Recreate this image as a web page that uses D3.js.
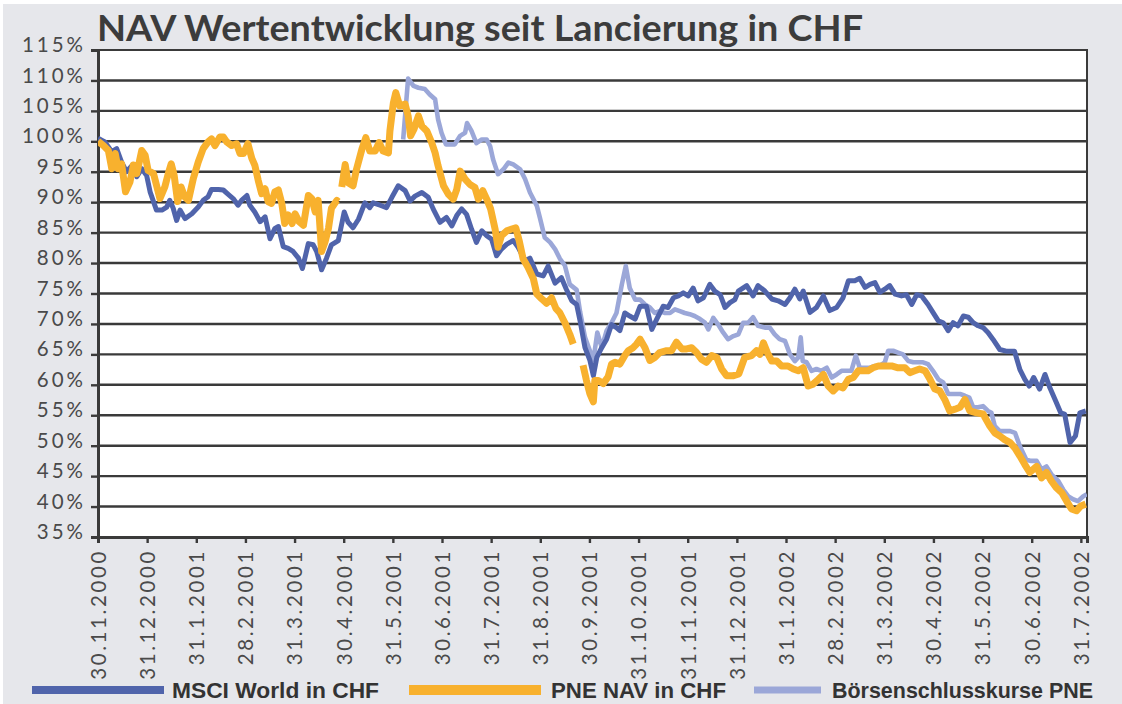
<!DOCTYPE html>
<html>
<head>
    <meta charset="utf-8">
    <title>NAV Wertentwicklung</title>
    <script src="https://cdn.jsdelivr.net/npm/d3@7/dist/d3.min.js"></script>
    <style>
        body { margin: 0; background: #fff; }
        svg { display: block; }
    </style>
</head>
<body>
    <svg width="1122" height="704"></svg>
    <script>
        // month index since launch (0 = 30.11.2000), value in %
        const xLabels = ['30.11.2000','31.12.2000','31.1.2001','28.2.2001','31.3.2001','30.4.2001',
            '31.5.2001','30.6.2001','31.7.2001','31.8.2001','30.9.2001','31.10.2001','31.11.2001',
            '31.12.2001','31.1.2002','28.2.2002','31.3.2002','30.4.2002','31.5.2002','30.6.2002','31.7.2002'];
        const yTicks = [35,40,45,50,55,60,65,70,75,80,85,90,95,100,105,110,115];
        const seriesNames = ['MSCI World in CHF', 'PNE NAV in CHF', 'Börsenschlusskurse PNE'];

        const msci = [[0,100.5],[0.14,99.9],[0.28,98.3],[0.38,98.8],[0.48,96.6],[0.58,95],[0.69,96],[0.79,94.2],
            [0.89,95.5],[0.99,94.4],[1.06,91.7],[1.19,88.7],[1.30,88.7],[1.40,89.2],[1.46,90.3],[1.53,89],[1.60,87],
            [1.67,88.7],[1.77,87.3],[1.91,88.1],[2.04,89.2],[2.14,90.3],[2.24,90.9],[2.31,92.1],[2.45,92.1],[2.55,92],
            [2.65,91.3],[2.75,90.6],[2.85,89.5],[2.92,90.3],[3.03,91.1],[3.09,89.5],[3.19,88.4],[3.30,86.8],[3.40,87.6],
            [3.50,84],[3.60,85.7],[3.67,86],[3.77,82.7],[3.87,82.4],[3.97,81.9],[4.08,80.8],[4.16,79.1],[4.28,83.2],
            [4.38,83],[4.45,81.9],[4.55,78.9],[4.65,80.8],[4.75,83],[4.89,83.7],[5.01,88.4],[5.09,86.7],[5.19,85.8],
            [5.30,87.2],[5.43,89.9],[5.53,89.1],[5.60,89.9],[5.74,89.5],[5.87,89.1],[5.98,90.8],[6.11,92.7],[6.25,91.9],
            [6.35,90.2],[6.45,91],[6.59,91.6],[6.72,90.8],[6.82,88.9],[6.96,86.7],[7.09,87.5],[7.20,86.1],[7.30,87.8],
            [7.40,88.9],[7.50,88],[7.60,85.6],[7.70,83.4],[7.81,85.3],[7.91,84.5],[8.01,83.9],[8.11,81.2],[8.21,82.3],
            [8.32,83.1],[8.45,83.7],[8.55,82.6],[8.69,80.4],[8.79,80.8],[8.93,78.2],[9.06,77.9],[9.16,79.5],[9.30,76.7],
            [9.43,77.6],[9.53,75.7],[9.64,73.8],[9.74,73.2],[9.81,70.5],[9.91,66.1],[10.01,64],[10.08,61.5],[10.15,64.5],
            [10.25,66.1],[10.35,67.5],[10.45,69.9],[10.55,69.4],[10.62,68.9],[10.72,71.8],[10.82,71.3],[10.93,70.8],
            [11.03,72.9],[11.16,72.9],[11.27,69.1],[11.37,70.8],[11.50,72.9],[11.60,72.7],[11.71,74.3],[11.81,74.6],
            [11.91,75.1],[12.01,74.6],[12.11,75.9],[12.21,73.8],[12.32,74.3],[12.45,76.5],[12.55,75.4],[12.66,74.8],
            [12.76,72.7],[12.86,73.5],[12.96,74],[13.03,75.4],[13.20,76.3],[13.33,74.6],[13.43,76.3],[13.57,75.4],
            [13.71,74.1],[13.84,73.8],[13.98,73.2],[14.08,74.3],[14.18,75.7],[14.28,74.1],[14.35,75.4],[14.49,71.9],
            [14.62,72.7],[14.76,74.6],[14.89,72.2],[15.03,72.7],[15.16,74.3],[15.27,77.1],[15.40,77.1],[15.50,77.5],
            [15.61,76],[15.71,76.5],[15.81,76.8],[15.91,75.2],[16.01,75.7],[16.11,76.3],[16.22,74.9],[16.35,74.6],
            [16.45,74.8],[16.56,73.2],[16.66,74.8],[16.76,74.6],[16.89,73.2],[16.99,71.9],[17.10,70.5],[17.20,70.2],
            [17.30,68.9],[17.40,70.2],[17.50,69.7],[17.61,71.3],[17.71,71.1],[17.81,70.2],[17.91,69.7],[18.01,69.4],
            [18.11,68.6],[18.21,67.5],[18.35,65.8],[18.50,65.5],[18.65,65.5],[18.76,62.5],[18.86,60.9],[18.95,59.8],
            [19.04,61.2],[19.16,59.3],[19.27,61.7],[19.37,59.5],[19.49,57.3],[19.59,55.4],[19.67,55.2],[19.78,50.5],
            [19.89,51.6],[19.98,55.4],[20.10,55.7]];

        const nav = [[0,100],[0.11,99.3],[0.21,98.5],[0.28,95.5],[0.35,98],[0.41,95.5],[0.48,96.3],[0.56,91.7],
            [0.65,93.3],[0.72,96.1],[0.79,94.7],[0.89,98.5],[0.96,97.7],[1.02,95.2],[1.13,94.7],[1.19,92.8],[1.26,90.6],
            [1.36,92.5],[1.43,94.7],[1.49,96.3],[1.55,94.4],[1.62,90.1],[1.69,92.5],[1.76,90.9],[1.84,90.3],[1.94,93.9],
            [2.04,96.6],[2.14,98.8],[2.24,99.9],[2.31,100.4],[2.38,99.3],[2.48,100.7],[2.55,100.7],[2.62,99.9],
            [2.72,99.3],[2.82,99.6],[2.89,98],[2.96,98],[3.05,99.6],[3.13,97.2],[3.19,96.1],[3.26,93.6],[3.33,91.4],
            [3.40,92.2],[3.46,90.1],[3.53,89.8],[3.60,91.7],[3.67,92],[3.74,89.8],[3.80,86.5],[3.87,87.9],[3.95,86.5],
            [4.01,88.1],[4.09,86.8],[4.18,86.2],[4.28,91.1],[4.35,90.6],[4.42,88.4],[4.48,90.3],[4.55,81.9],[4.62,83.5],
            [4.69,85.7],[4.75,89],[4.86,90.3],[4.89,90.1],[4.92,null],[4.96,92.5],[5.03,96.2],[5.09,93.2],[5.19,92.7],
            [5.26,95.4],[5.37,98.7],[5.45,100.6],[5.53,98.4],[5.64,98.4],[5.72,99.8],[5.80,98.4],[5.91,98.1],
            [5.94,101.7],[6.01,106.3],[6.06,108],[6.14,105.8],[6.25,106.1],[6.31,104.2],[6.36,100.9],[6.43,102],
            [6.52,104.2],[6.59,102.5],[6.69,101.7],[6.79,99.8],[6.86,98.1],[6.92,96],[7.03,92.7],[7.13,91.3],
            [7.23,90.5],[7.30,92.1],[7.37,95.1],[7.47,93.8],[7.57,92.9],[7.67,92.4],[7.74,90.5],[7.83,91.9],[7.91,90.5],
            [7.99,88.9],[8.08,85.6],[8.14,82.6],[8.21,84.5],[8.32,85.3],[8.42,85.6],[8.50,85.8],[8.57,83.7],[8.65,80.7],
            [8.75,79.3],[8.86,77.4],[8.93,74.9],[9.03,74.1],[9.13,73.4],[9.23,74.3],[9.32,72.5],[9.40,71.8],[9.50,70.2],
            [9.60,68.3],[9.67,66.7],[9.77,null],[9.87,63.2],[9.94,60.7],[10.01,58.5],[10.08,57.2],[10.11,60.7],
            [10.18,60.7],[10.28,60.2],[10.38,61.3],[10.45,63.4],[10.52,63.7],[10.62,63.4],[10.72,64.8],[10.79,65.6],
            [10.89,66.1],[10.96,66.7],[11.03,67.5],[11.13,66.1],[11.23,64],[11.33,64.5],[11.43,65.3],[11.57,65.6],
            [11.67,65.6],[11.77,67],[11.88,65.9],[11.98,65.9],[12.08,66.1],[12.18,65.3],[12.28,64.2],[12.38,63.7],
            [12.49,64.8],[12.59,64.5],[12.69,62.6],[12.79,61.5],[12.93,61.5],[13.04,61.8],[13.16,64.5],[13.30,64.8],
            [13.40,65.6],[13.47,65],[13.54,66.9],[13.62,65.3],[13.71,63.9],[13.81,63.9],[13.91,63.1],[14.04,63.1],
            [14.15,62.6],[14.25,62.3],[14.35,62.8],[14.45,59.8],[14.55,60.1],[14.66,60.9],[14.76,61.7],[14.86,59.8],
            [14.96,59],[15.06,59.8],[15.16,59.5],[15.27,60.9],[15.37,61.2],[15.47,62.3],[15.57,62.3],[15.67,62.3],
            [15.77,62.8],[15.88,63.1],[16.01,63.1],[16.15,63.1],[16.28,62.8],[16.42,62.8],[16.52,62],[16.62,62.3],
            [16.72,62.6],[16.83,62.3],[16.93,60.9],[17.03,59.3],[17.13,59],[17.23,57.6],[17.33,55.7],[17.44,56],
            [17.54,56.3],[17.64,57.6],[17.74,55.7],[17.88,55.4],[18.01,55.2],[18.15,53.2],[18.25,52.1],[18.35,51.6],
            [18.45,51],[18.56,50.5],[18.66,49.6],[18.76,48.3],[18.86,46.9],[18.96,45.6],[19.03,46.1],[19.10,46.6],
            [19.20,44.7],[19.30,45.6],[19.40,44.2],[19.50,43.1],[19.61,42.3],[19.71,40.9],[19.81,39.6],[19.91,39.3],
            [20.00,40.1],[20.10,40.4]];

        const boerse = [[6.21,100.3],[6.31,110.3],[6.42,109.1],[6.52,108.8],[6.65,108.6],[6.75,107.7],[6.86,106.9],
            [6.92,103.6],[6.99,101.4],[7.08,99.5],[7.20,99.5],[7.26,99.5],[7.37,100.9],[7.47,101.4],[7.51,103],
            [7.60,101.7],[7.70,99.7],[7.81,100.3],[7.91,100.3],[7.98,99.2],[8.04,97],[8.14,94.6],[8.25,95.4],
            [8.35,96.5],[8.45,96.2],[8.59,95.4],[8.69,93.8],[8.79,91.6],[8.93,89.4],[8.99,87.5],[9.09,84.2],[9.20,83.4],
            [9.30,82.3],[9.40,80.7],[9.50,79.6],[9.60,76.5],[9.74,75.6],[9.81,72],[9.91,67.8],[10.01,65.6],[10.08,64],
            [10.16,68.6],[10.25,66.1],[10.35,68.9],[10.45,70.2],[10.55,71.8],[10.66,76.5],[10.74,79.5],[10.82,75.9],
            [10.93,74],[11.03,74],[11.13,73.2],[11.23,72.7],[11.33,71.8],[11.43,72.1],[11.54,71.8],[11.64,71.8],
            [11.74,72.4],[11.84,72.1],[11.94,71.8],[12.04,71.6],[12.14,71.3],[12.25,70.8],[12.35,70.2],[12.42,69.1],
            [12.52,71],[12.62,69.9],[12.72,68.6],[12.82,67.5],[12.93,68],[13.03,68.3],[13.13,70.2],[13.23,70.2],
            [13.33,71.1],[13.43,69.7],[13.57,69.4],[13.67,69.4],[13.77,68.3],[13.87,67.5],[13.98,67.2],[14.08,65],
            [14.18,63.9],[14.25,64.5],[14.30,67.8],[14.34,63.9],[14.42,63.7],[14.52,62.3],[14.62,62.6],[14.72,62.3],
            [14.83,62.8],[14.93,61.2],[15.03,61.7],[15.13,62.3],[15.23,62.3],[15.33,62.3],[15.42,64.8],[15.50,62.8],
            [15.61,62.8],[15.71,62.8],[15.81,63.1],[15.91,63.1],[16.01,63.7],[16.08,65.6],[16.18,65.6],[16.28,65.3],
            [16.38,65],[16.49,63.9],[16.59,63.7],[16.69,63.7],[16.79,63.7],[16.89,63.4],[16.99,62.3],[17.10,60.9],
            [17.20,60.4],[17.30,58.5],[17.40,58.5],[17.54,58.5],[17.64,58.2],[17.73,57.9],[17.81,56.3],[17.91,56.3],
            [18.01,56.5],[18.11,55.7],[18.18,55.4],[18.25,53.2],[18.35,52.4],[18.56,52.4],[18.66,52.1],[18.76,49.9],
            [18.89,47.7],[18.99,47.5],[19.10,47.5],[19.20,46.1],[19.30,46.6],[19.40,45.3],[19.54,44.2],[19.64,42.8],
            [19.74,41.7],[19.84,41.2],[19.94,40.9],[20.05,41.7],[20.12,42]];

        const colors = ['#5064ab', '#f8b12e', '#9ba7d8'];

        const svg = d3.select('svg');
        const W = 1122, H = 704;
        const plotLeft = 98, plotRight = 1087, plotTop = 50, plotBottom = 537;

        svg.append('rect').attr('x', 3).attr('y', 4).attr('width', W - 3).attr('height', H - 4)
            .attr('fill', '#e6e7eb');

        const x = d3.scaleLinear().domain([0, 20.125]).range([plotLeft, plotRight]);
        const y = d3.scaleLinear().domain([35, 115]).range([plotBottom, plotTop]);

        // plot area
        svg.append('rect')
            .attr('x', plotLeft).attr('y', plotTop)
            .attr('width', plotRight - plotLeft).attr('height', plotBottom - plotTop)
            .attr('fill', '#fff')
            .attr('stroke', '#3a3a3a').attr('stroke-width', 2);

        // gridlines
        svg.append('g').selectAll('line')
            .data(yTicks.filter(d => d > 35 && d < 115))
            .join('line')
                .attr('x1', plotLeft).attr('x2', plotRight)
                .attr('y1', d => y(d)).attr('y2', d => y(d))
                .attr('stroke', '#3a3a3a')
                .attr('stroke-width', 2.4);

        // y axis
        const yAxis = svg.append('g')
            .attr('transform', `translate(${plotLeft},0)`)
            .call(d3.axisLeft(y).tickValues(yTicks).tickSize(7).tickPadding(5).tickFormat(d => d + '%'));
        yAxis.select('.domain').attr('stroke', '#3a3a3a').attr('stroke-width', 3);
        yAxis.selectAll('.tick line').attr('stroke', '#3a3a3a').attr('stroke-width', 2.4);
        yAxis.selectAll('.tick text')
            .attr('y', -5)
            .attr('fill', '#4a4a4a')
            .style('font-family', 'Lato, "Noto Sans", sans-serif')
            .style('font-size', '20.5px')
            .style('letter-spacing', '3px');

        // x axis
        const xAxis = svg.append('g')
            .attr('transform', `translate(0,${plotBottom})`)
            .call(d3.axisBottom(x).tickValues(d3.range(xLabels.length)).tickSize(6)
                .tickFormat(i => xLabels[i]));
        xAxis.select('.domain').attr('stroke', '#3a3a3a').attr('stroke-width', 3);
        xAxis.selectAll('.tick line').attr('stroke', '#3a3a3a').attr('stroke-width', 2.4);
        xAxis.selectAll('.tick text')
            .attr('transform', 'rotate(-90)')
            .attr('text-anchor', 'end')
            .attr('x', -12)
            .attr('y', 0)
            .attr('dy', '0.36em')
            .attr('fill', '#4a4a4a')
            .style('font-family', 'Lato, "Noto Sans", sans-serif')
            .style('font-size', '20.5px')
            .style('letter-spacing', '2.6px');

        // series
        const line = d3.line()
            .defined(d => d[1] != null)
            .x(d => x(d[0]))
            .y(d => y(d[1]));

        const seriesData = [boerse, msci, nav];
        const seriesColor = [colors[2], colors[0], colors[1]];
        const seriesWidth = [4.6, 5, 7];

        svg.append('clipPath').attr('id', 'plotclip')
            .append('rect').attr('x', plotLeft).attr('y', plotTop - 5)
            .attr('width', plotRight - plotLeft).attr('height', plotBottom - plotTop + 5);

        svg.append('g').attr('clip-path', 'url(#plotclip)')
            .selectAll('path')
            .data(seriesData)
            .join('path')
                .attr('d', line)
                .attr('fill', 'none')
                .attr('stroke', (d, i) => seriesColor[i])
                .attr('stroke-width', (d, i) => seriesWidth[i])
                .attr('stroke-linejoin', 'round');

        // title
        svg.append('text')
            .attr('x', 97).attr('y', 41)
            .attr('fill', '#3c3c3c')
            .attr('textLength', 766)
            .attr('lengthAdjust', 'spacingAndGlyphs')
            .style('font-family', 'Lato, "Noto Sans", sans-serif')
            .style('font-weight', 'bold')
            .style('font-size', '37px')
            .text('NAV Wertentwicklung seit Lancierung in CHF');

        // legend
        const legendSwatch = [[32, 164], [409, 541], [754, 821]];
        const legendText = [[172, 207], [551, 175], [832, 261]];
        const legendThick = [8, 10, 7];
        const legend = svg.append('g');
        seriesNames.forEach((name, i) => {
            legend.append('line')
                .attr('x1', legendSwatch[i][0]).attr('x2', legendSwatch[i][1])
                .attr('y1', 690).attr('y2', 690)
                .attr('stroke', colors[i])
                .attr('stroke-width', legendThick[i]);
            legend.append('text')
                .attr('x', legendText[i][0]).attr('y', 698)
                .attr('textLength', legendText[i][1])
                .attr('lengthAdjust', 'spacingAndGlyphs')
                .attr('fill', '#333')
                .style('font-family', '"Liberation Sans Narrow", "Liberation Sans", sans-serif')
                .style('font-weight', 'bold')
                .style('font-size', '22px')
                .text(name);
        });
    </script>
</body>
</html>
